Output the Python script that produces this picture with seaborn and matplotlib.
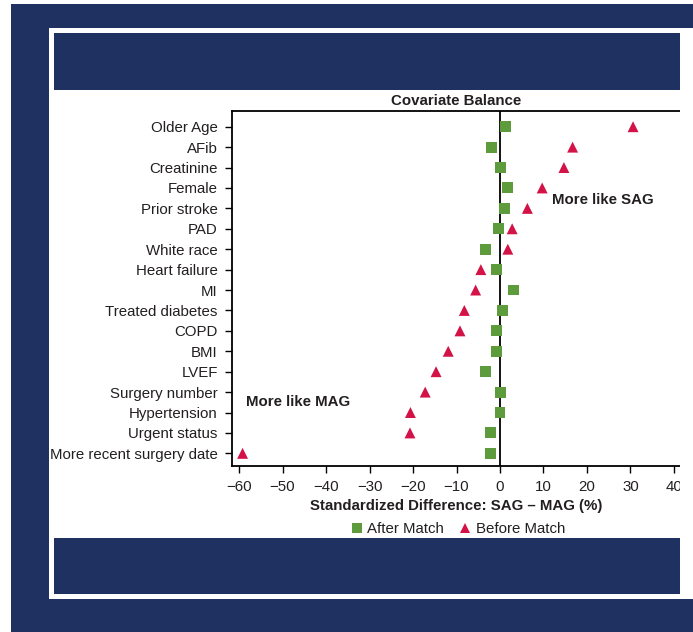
import matplotlib
matplotlib.use("Agg")
import matplotlib.pyplot as plt
import seaborn as sns
import pandas as pd
from matplotlib.patches import Rectangle

covariates = [
    "Older Age", "AFib", "Creatinine", "Female", "Prior stroke", "PAD",
    "White race", "Heart failure", "MI", "Treated diabetes", "COPD", "BMI",
    "LVEF", "Surgery number", "Hypertension", "Urgent status",
    "More recent surgery date",
]
after_match = [1.3, -1.9, 0.2, 1.8, 1.1, -0.4, -3.3, -0.9, 3.1, 0.6,
               -0.8, -0.9, -3.3, 0.2, 0.0, -2.2, -2.1]
before_match = [30.6, 16.7, 14.7, 9.7, 6.3, 2.8, 1.8, -4.4, -5.6, -8.2,
                -9.2, -11.9, -14.7, -17.2, -20.6, -20.7, -59.2]
groups = ["After Match", "Before Match"]
x_ticks = [-60, -50, -40, -30, -20, -10, 0, 10, 20, 30, 40]

NAVY = "#1f3160"
GREEN = "#5e9b3d"
RED = "#d31347"
INK = "#231f20"

df = pd.concat([
    pd.DataFrame({"covariate": covariates, "diff": after_match, "group": groups[0]}),
    pd.DataFrame({"covariate": covariates, "diff": before_match, "group": groups[1]}),
], ignore_index=True)

sns.set_theme(style="ticks")
plt.rcParams["font.family"] = ["Liberation Sans", "DejaVu Sans"]
plt.rcParams["axes.unicode_minus"] = True
plt.rcParams["text.color"] = INK
plt.rcParams["axes.labelcolor"] = INK

W, H = 693, 632
fig = plt.figure(figsize=(W / 100, H / 100), dpi=100, facecolor="white")


def px_rect(x0, y0, x1, y1, color, z):
    # rectangle given in pixel coordinates measured from the top-left corner
    r = Rectangle((x0 / W, 1 - y1 / H), (x1 - x0) / W, (y1 - y0) / H,
                  transform=fig.transFigure, facecolor=color,
                  edgecolor="none", zorder=z)
    fig.add_artist(r)


# page frame
px_rect(11, 4, 700, 640, NAVY, -10)
px_rect(49, 28, 700, 599, "white", -9)
px_rect(54, 33, 680, 90, NAVY, -8)
px_rect(54, 538, 680, 594, NAVY, -8)

ax = fig.add_axes([231.7 / W, 1 - 466 / H, (680 - 231.7) / W, (466 - 111) / H])
ax.set_facecolor("none")

ax.axvline(0, color="black", lw=1.3, zorder=1)
sns.scatterplot(
    data=df, x="diff", y="covariate", hue="group", style="group",
    hue_order=groups, style_order=groups,
    palette={groups[0]: GREEN, groups[1]: RED},
    markers={groups[0]: "s", groups[1]: "^"},
    s=62, linewidth=0, zorder=3, ax=ax,
)

ax.set_xlim(-61.7, 41.4)
ax.set_ylim(len(covariates) - 1 + 0.62, -0.77)
ax.set_xticks(x_ticks)
ax.set_ylabel("")
ax.set_xlabel("Standardized Difference: SAG \u2013 MAG (%)",
              fontsize=10.8, fontweight="bold", labelpad=4)
ax.set_title("Covariate Balance", fontsize=10.8, fontweight="bold", pad=4.5)

for side in ("left", "bottom", "top"):
    ax.spines[side].set_color("black")
    ax.spines[side].set_linewidth(1.3)
ax.spines["right"].set_visible(False)
ax.tick_params(axis="both", colors="black", labelcolor=INK, labelsize=10.8,
               length=5, width=1, pad=5)

ax.text(11.9, 3.59, "More like SAG", fontsize=10.8, fontweight="bold",
        ha="left", va="center")
ax.text(-58.4, 13.5, "More like MAG", fontsize=10.8, fontweight="bold",
        ha="left", va="center")

sns.move_legend(
    ax, "center", bbox_to_anchor=(458 / W, 1 - 529 / H),
    bbox_transform=fig.transFigure, ncol=2, frameon=False, title=None,
    fontsize=10.8, handlelength=0.8, handletextpad=0.3, columnspacing=1.0,
    markerscale=1.0, borderaxespad=0,
)

# crop the plot at the right edge of the panel
px_rect(680, 90, 700, 538, "white", 20)

fig.savefig("out.png", dpi=100, facecolor="white")
